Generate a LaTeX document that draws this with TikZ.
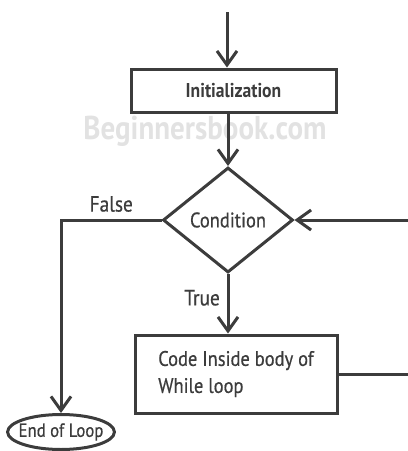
\documentclass[tikz,border=0pt]{standalone}
\usepackage{fontspec}
\setmainfont{PT Sans}
\newfontfamily\lblfont[FakeStretch=0.88,FakeBold=0.6]{PT Sans}
\newfontfamily\headfont[FakeStretch=0.88]{PT Sans Bold}
\usetikzlibrary{shapes.geometric,arrows.meta}
\definecolor{ink}{HTML}{3C3C3C}
\definecolor{mark}{HTML}{E2E2E2}
\begin{document}
\begin{tikzpicture}[x=0.5pt,y=-0.5pt,
    line width=1.5pt, draw=ink, text=ink,
    flow/.style={draw=ink, -{Straight Barb[length=7pt,width=10pt]}},
    box/.style={draw=ink, rectangle, inner sep=0pt},
    decision/.style={draw=ink, diamond, inner sep=0pt, minimum width=65pt, minimum height=52.5pt},
    finish/.style={draw=ink, ellipse, inner xsep=-2.3pt, inner ysep=0pt, minimum height=17.5pt}]
        \useasboundingbox (0,0) rectangle (408,451);
        \node[text=mark, font=\headfont\fontsize{16.5}{18}\selectfont] (wm) at (205,131) {Beginnersbook.com};
        \node[box, minimum width=102.5pt, minimum height=21.5pt, font=\headfont\fontsize{10}{12}\selectfont] (init) at (233.5,90.5) {Initialization};
        \node[decision, font=\lblfont\fontsize{10.5}{12}\selectfont] (cond) at (228,220) {Condition};
        \node[box, minimum width=101pt, minimum height=39pt, align=left, font=\lblfont\fontsize{10.5}{13.5}\selectfont] (body) at (236,374) {Code Inside body of\\While loop};
        \node[finish, font=\lblfont\fontsize{9.5}{11}\selectfont] (end) at (61,432) {End of Loop};
        \coordinate (top) at (227,12);
        \coordinate (back) at (430,220);
        \draw[flow] (top) -- (top |- init.north);
        \draw[flow] (cond.north |- init.south) -- (cond.north);
        \draw[flow] (cond.west) -| node[pos=0.25, above, font=\lblfont\fontsize{11}{12}\selectfont] {False} (end.north);
        \draw[flow] (cond.south) -- node[pos=0.4, left, font=\lblfont\fontsize{11}{12}\selectfont] {True} (cond.south |- body.north);
        \draw[flow] (body.east) -| (back) -- (cond.east);
    \end{tikzpicture}
\end{document}
